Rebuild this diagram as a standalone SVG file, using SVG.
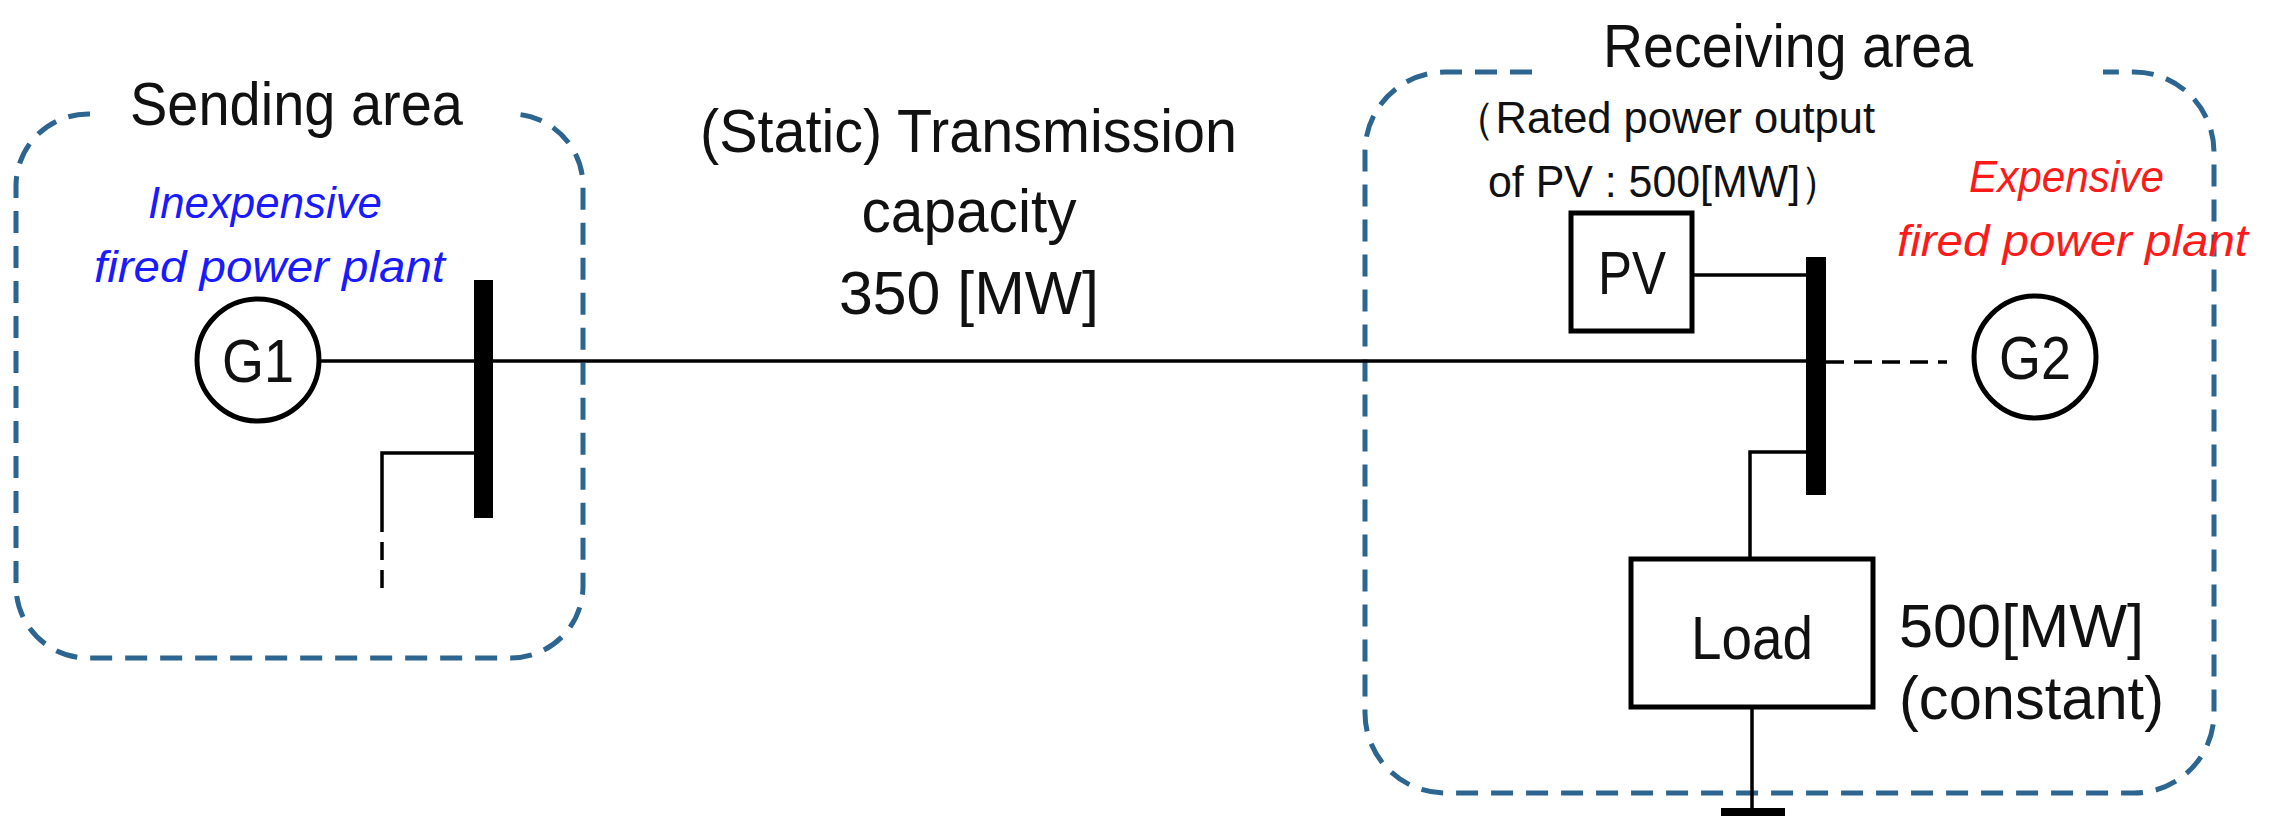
<svg xmlns="http://www.w3.org/2000/svg" width="2269" height="835" viewBox="0 0 2269 835">
<style>
.area{fill:none;stroke:#2b6590;stroke-width:5;stroke-dasharray:22 13}
.ln{fill:none;stroke:#000;stroke-width:3.5}
.box{fill:#fff;stroke:#000;stroke-width:5}
.bus{fill:#000}
text{font-family:"Liberation Sans",Arial,sans-serif;fill:#111}
.big{font-size:62px}
.mid{font-size:44px}
.it{font-size:44px;font-style:italic}
</style>
<rect width="2269" height="835" fill="#fff"/>
<g id="sending-area">
<path class="area" d="M90,114 H88 A72,72 0 0 0 16,186 V586 A72,72 0 0 0 88,658 H511 A72,72 0 0 0 583,586 V186 A72,72 0 0 0 511,114"/>
<text class="big" x="130" y="125" textLength="333" lengthAdjust="spacingAndGlyphs">Sending area</text>
<text class="it" x="148" y="218" textLength="234" lengthAdjust="spacingAndGlyphs" style="fill:#1a1aff">Inexpensive</text>
<text class="it" x="94" y="282" textLength="351" lengthAdjust="spacingAndGlyphs" style="fill:#1a1aff">fired power plant</text>
</g>
<g id="receiving-area">
<path class="area" d="M1532,72 H1445 A80,80 0 0 0 1365,152 V713 A80,80 0 0 0 1445,793 H2134 A80,80 0 0 0 2214,713 V152 A80,80 0 0 0 2134,72 H2103"/>
<text class="big" x="1603" y="67" textLength="370" lengthAdjust="spacingAndGlyphs">Receiving area</text>
<text class="mid" x="1452" y="133" textLength="423" lengthAdjust="spacingAndGlyphs">（Rated power output</text>
<text class="mid" x="1488" y="197" textLength="355" lengthAdjust="spacingAndGlyphs">of PV : 500[MW]）</text>
<text class="it" x="1969" y="192" textLength="195" lengthAdjust="spacingAndGlyphs" style="fill:#ff1a1a">Expensive</text>
<text class="it" x="1897" y="256" textLength="351" lengthAdjust="spacingAndGlyphs" style="fill:#ff1a1a">fired power plant</text>
</g>
<g id="capacity-label">
<text class="big" x="700" y="152" textLength="537" lengthAdjust="spacingAndGlyphs">(Static) Transmission</text>
<text class="big" x="969" y="232" text-anchor="middle" textLength="215" lengthAdjust="spacingAndGlyphs">capacity</text>
<text class="big" x="839" y="314" textLength="260" lengthAdjust="spacingAndGlyphs">350 [MW]</text>
</g>
<g id="connectors">
<line class="ln" x1="320" y1="361" x2="1806" y2="361"/>
<polyline class="ln" points="474,453 382,453 382,514"/>
<line class="ln" x1="382" y1="514" x2="382" y2="590" stroke-dasharray="18 10"/>
<line class="ln" x1="1692" y1="275" x2="1806" y2="275"/>
<line class="ln" x1="1826" y1="362" x2="1947" y2="362" stroke-dasharray="18 10"/>
<polyline class="ln" points="1806,452 1750,452 1750,559"/>
<line class="ln" x1="1752" y1="707" x2="1752" y2="812"/>
<rect class="bus" x="1721" y="808" width="64" height="8"/>
</g>
<g id="G1">
<circle class="box" cx="258" cy="360" r="61"/>
<text class="big" x="258" y="382" text-anchor="middle" textLength="72" lengthAdjust="spacingAndGlyphs">G1</text>
</g>
<g id="bus1"><rect class="bus" x="474" y="280" width="19" height="238"/></g>
<g id="bus2"><rect class="bus" x="1806" y="257" width="20" height="238"/></g>
<g id="PV">
<rect class="box" x="1571" y="213" width="121" height="118"/>
<text class="big" x="1632" y="294" text-anchor="middle" textLength="68" lengthAdjust="spacingAndGlyphs">PV</text>
</g>
<g id="G2">
<circle class="box" cx="2035" cy="357" r="61"/>
<text class="big" x="2035" y="379" text-anchor="middle" textLength="72" lengthAdjust="spacingAndGlyphs">G2</text>
</g>
<g id="Load">
<rect class="box" x="1631" y="559" width="242" height="148"/>
<text class="big" x="1752" y="659" text-anchor="middle" textLength="122" lengthAdjust="spacingAndGlyphs">Load</text>
<text class="big" x="1899" y="647" textLength="245" lengthAdjust="spacingAndGlyphs">500[MW]</text>
<text class="big" x="1899" y="719" textLength="265" lengthAdjust="spacingAndGlyphs">(constant)</text>
</g>
</svg>
